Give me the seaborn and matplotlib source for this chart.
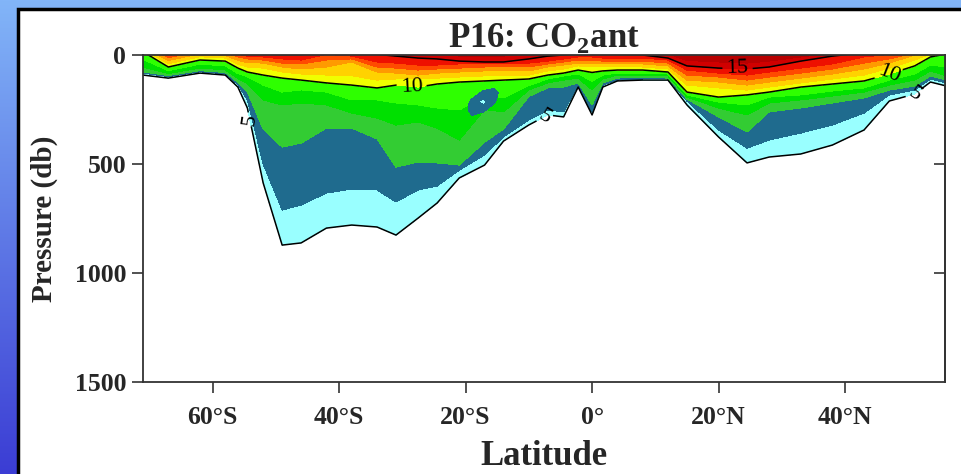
import numpy as np
import matplotlib
matplotlib.use("Agg")
import matplotlib.pyplot as plt
from matplotlib.colors import LinearSegmentedColormap
from matplotlib.patches import Rectangle
import seaborn as sns

# station latitudes along the P16 line (deg, S negative)
LAT = [-71, -67, -62, -58, -56, -54.5, -52, -49, -46, -42, -38, -34, -31, -27.5,
       -24.5, -21, -17, -14, -10, -7, -4.5, -2.2, 0, 1.7, 4, 8, 12, 15, 20, 24.5,
       28, 33, 38, 43, 47, 51, 53.5, 56]

# pressure (db) of each CO2ant isoline (umol/kg) at every station, read off the section
# negative = isoline sits above the sea surface there
p_iso05 = [92, 106, 83, 92, 147, 243, 587, 872, 862, 794, 780, 789, 826, 748, 679, 564, 505, 395, 321,
           275, 284, 147, 275, 147, 119, 115, 115, 229, 376, 495, 468, 454, 413, 344, 211, 179, 124, 142]
p_iso06 = [83, 99, 77, 86, 135, 206, 500, 711, 688, 633, 615, 619, 674, 619, 601, 528, 459, 375, 298,
           252, 261, 138, 262, 138, 115, 110, 110, 211, 344, 427, 390, 358, 321, 266, 183, 161, 110, 128]
p_iso07 = [78, 94, 72, 80, 125, 170, 340, 422, 404, 335, 335, 385, 514, 491, 495, 505, 400, 340, 190,
           151, 147, 128, 229, 128, 106, 101, 106, 202, 284, 353, 261, 243, 220, 197, 161, 142, 96, 115]
p_iso08 = [55, 85, 60, 68, 108, 130, 206, 229, 220, 229, 266, 289, 321, 307, 335, 390, 250, 261, 160,
           128, 115, 106, 160, 110, 92, 92, 96, 193, 243, 275, 220, 206, 188, 170, 138, 115, 73, 96]
p_iso09 = [20, 72, 42, 50, 85, 100, 138, 170, 160, 170, 206, 206, 220, 229, 243, 252, 190, 197, 140,
           110, 96, 87, 120, 92, 83, 83, 87, 183, 216, 229, 193, 183, 165, 151, 115, 87, 46, 55]
p_iso10 = [-15, 55, 23, 28, 60, 78, 92, 106, 115, 128, 138, 151, 138, 147, 133, 124, 119, 115, 110,
           92, 83, 69, 80, 73, 69, 69, 78, 170, 193, 183, 170, 147, 133, 119, 87, 50, 9, -5]
p_iso11 = [-25, 40, 8, 14, 42, 55, 60, 78, 87, 92, 95, 115, 110, 110, 106, 101, 96, 96, 92,
           73, 64, 50, 55, 55, 55, 55, 64, 138, 151, 161, 147, 128, 110, 92, 60, 23, -5, -15]
p_iso12 = [-35, 25, -5, 2, 24, 35, 37, 55, 64, 55, 32, 78, 83, 92, 83, 78, 73, 73, 73,
           55, 46, 37, 37, 41, 41, 41, 50, 115, 124, 138, 124, 106, 87, 64, 37, 0, -15, -25]
p_iso13 = [-45, 12, -15, -8, 8, 18, 23, 37, 41, 23, 18, 55, 60, 69, 64, 60, 55, 55, 55,
           41, 32, 23, 23, 28, 28, 28, 37, 92, 101, 115, 101, 83, 64, 37, 18, -10, -25, -35]
p_iso14 = [-55, 3, -25, -18, -3, 5, 9, 18, 23, -3, 5, 32, 37, 46, 46, 41, 41, 41, 37,
           28, 18, 9, 9, 14, 14, 14, 23, 69, 83, 92, 78, 60, 41, 9, -3, -20, -35, -45]
p_iso15 = [-65, -5, -35, -28, -13, -6, -5, -2, -2, -15, -5, -3, 5, 14, 18, 28, 32, 32, 18,
           5, 0, -5, -5, -5, -3, 0, 14, 50, 60, 64, 55, 28, 5, -10, -15, -30, -45, -55]
p_iso16 = [-75, -15, -45, -38, -23, -18, -20, -10, -10, -30, -18, -10, -5, -5, -5, 5, 9, 5, -5,
           -5, -10, -20, -20, -20, -20, -15, -5, 25, 32, 37, 28, 9, -9, -25, -30, -40, -55, -65]

ISO_VALUES = [16, 15, 14, 13, 12, 11, 10, 9, 8, 7, 6, 5]

# small low-CO2ant eddy near 17S, 200 db
BLOB_LAT = [-20.5, -19, -17.2, -15.5, -14]
BLOB_P = [140, 175, 215, 255, 295]
BLOB_VAL = [[8.0, 8.0, 7.9, 7.4, 8.0],
            [8.0, 7.8, 6.6, 6.3, 7.9],
            [8.0, 6.6, 5.6, 6.8, 8.0],
            [7.9, 6.4, 6.8, 7.8, 8.0],
            [8.0, 7.5, 8.0, 8.0, 8.0]]

LAT_TICKS = [-60, -40, -20, 0, 20, 40]
LAT_LABELS = ["60°S", "40°S", "20°S", "0°", "20°N", "40°N"]
P_TICKS = [0, 500, 1000, 1500]

BAND_COLORS = ["#99ffff", "#1f6b8e", "#33cc33", "#00e000", "#2eff00", "#f0ff00",
               "#ffd200", "#ff9a00", "#ff4a00", "#ee1000", "#d00000", "#b80000"]

sns.set_style("ticks")
plt.rcParams["font.family"] = ["Liberation Serif", "DejaVu Serif"]
plt.rcParams["mathtext.fontset"] = "custom"
plt.rcParams["mathtext.rm"] = "Liberation Serif"
plt.rcParams["mathtext.bf"] = "Liberation Serif:bold"

fig = plt.figure(figsize=(9.61, 4.74), dpi=100)

# blue gradient frame + white panel
bg = fig.add_axes([0, 0, 1, 1], zorder=-10)
grad = np.linspace(0, 1, 256)[:, None]
bg.imshow(grad, aspect="auto", extent=[0, 1, 0, 1], origin="lower",
          cmap=LinearSegmentedColormap.from_list("frame", ["#3b3dd4", "#82b5f8"]))
bg.add_patch(Rectangle((18 / 961, -0.01), 1, 1 - 9 / 474 + 0.01, transform=bg.transAxes,
                       facecolor="white", edgecolor="black", lw=2.5))
bg.set_xlim(0, 1)
bg.set_ylim(0, 1)
bg.axis("off")

ax = fig.add_axes([143 / 961, 1 - 382 / 474, 802 / 961, 327 / 474])

# curvilinear grid: one row per isoline
lat = np.array(LAT, dtype=float)
rows = [np.full(lat.size, -200.0)]
rows += [np.array(p, dtype=float) for p in (p_iso16, p_iso15, p_iso14, p_iso13, p_iso12, p_iso11,
                                             p_iso10, p_iso09, p_iso08, p_iso07, p_iso06, p_iso05)]
rows.append(np.array(p_iso05, dtype=float) + 30)
P = np.vstack(rows)
vals = np.array([17] + ISO_VALUES + [4], dtype=float)
Z = np.repeat(vals[:, None], lat.size, axis=1)
X = np.repeat(lat[None, :], len(vals), axis=0)

levels = np.arange(5, 18) - 0.001
pal = sns.color_palette(BAND_COLORS)
ax.contourf(X, P, Z, levels=levels, colors=pal)
ax.contourf(BLOB_LAT, BLOB_P, BLOB_VAL, levels=levels[:3], colors=pal[:2])
cs = ax.contour(X, P, Z, levels=[4.999, 9.999, 14.999], colors="black", linewidths=1.1)
ax.clabel(cs, fmt=lambda v: f"{v:.0f}", fontsize=16, inline=True, inline_spacing=4,
          manual=[(-55.5, 300), (-7.5, 285), (51.5, 190), (-28.5, 140), (47, 92), (23, 64)])

ax.set_xlim(-71, 55.8)
ax.set_ylim(1500, 0)
ax.set_xticks(LAT_TICKS)
ax.set_xticklabels(LAT_LABELS)
ax.set_yticks(P_TICKS)
for lab in ax.get_xticklabels() + ax.get_yticklabels():
    lab.set_fontweight("bold")
    lab.set_fontsize(18.5)
ax.tick_params(axis="x", direction="out", length=8, width=1.2, color="#333333", pad=9)
ax.tick_params(axis="y", direction="out", length=8, width=1.2, color="#333333", pad=4)
for s in ax.spines.values():
    s.set_linewidth(1.3)
    s.set_color("#333333")

sec = ax.secondary_yaxis("right")
sec.set_yticks([500, 1000])
sec.set_yticklabels([])
sec.tick_params(direction="in", length=8, width=1.2, color="#333333")
sec.spines["right"].set_linewidth(1.3)
sec.spines["right"].set_color("#333333")

ax.set_title(r"P16: CO$_\mathbf{2}$ant", fontsize=25, fontweight="bold", pad=3)
ax.set_xlabel("Latitude", fontsize=25, fontweight="bold", labelpad=8)
ax.set_ylabel("Pressure (db)", fontsize=21, fontweight="bold", labelpad=12)

fig.savefig("out.png", dpi=100)
